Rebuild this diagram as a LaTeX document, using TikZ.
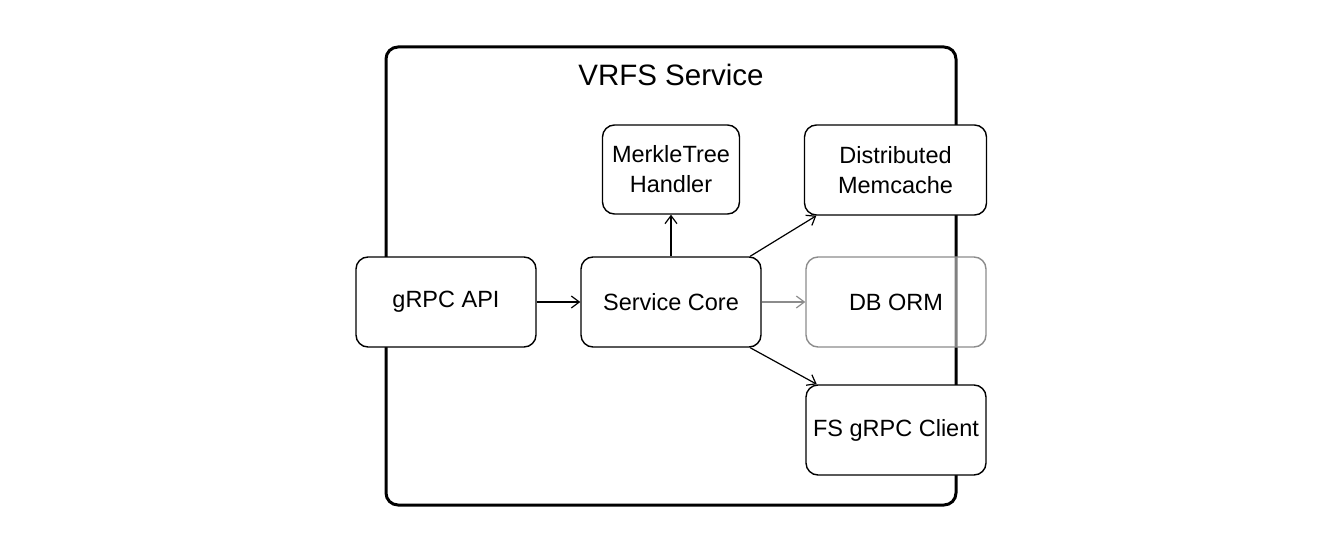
\documentclass[tikz,border=0pt]{standalone}
\usepackage{fontspec}
\setmainfont{Liberation Sans}
\usetikzlibrary{arrows.meta}
\begin{document}
\begin{tikzpicture}[x=1pt,y=-1pt,
  box/.style={draw=black, line width=1.4pt, rounded corners=12pt, fill=white,
    minimum width=180pt, minimum height=90pt, inner sep=0pt, align=center,
    font=\fontsize{23.5}{30}\selectfont},
  ghost/.style={box, draw=black!45, fill opacity=0.5, text opacity=1},
  frame/.style={draw=black, line width=3pt, rounded corners=12pt, inner sep=0pt},
  conn/.style={line width=1.2pt, -{Straight Barb[length=8pt,width=12pt,line width=1.2pt]}},
  ghostconn/.style={conn, draw=black!45},
]
\useasboundingbox (0,0) rectangle (1343,551);
\node[frame, minimum width=570pt, minimum height=458pt] (service) at (671,276) {};
\node[font=\fontsize{29.5}{34}\selectfont] (title) at (671,75) {VRFS Service};
\node[box] (api) at (446,302) {gRPC API};
\node[box] (core) at (671,302) {Service Core};
\node[box, minimum width=137pt, minimum height=89pt] (merkle) at (671,169.5) {MerkleTree\\Handler};
\node[box, minimum width=182pt] (mem) at (895.5,170) {Distributed\\Memcache};
\node[ghost] (db) at (896,302) {DB ORM};
\node[box] (fs) at (896,430) {FS gRPC Client};
\draw[conn] (api) -- (core);
\draw[conn] (core) -- (merkle);
\draw[conn] (core.30) -- (mem.210);
\draw[ghostconn] (core) -- (db);
\draw[conn] (core.-30) -- (fs.150);
\end{tikzpicture}
\end{document}
